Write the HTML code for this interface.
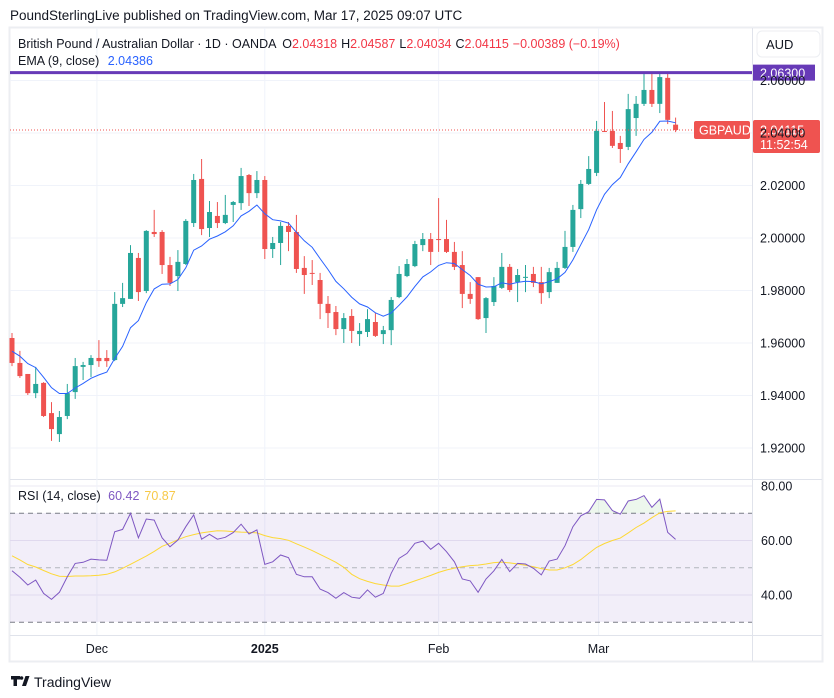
<!DOCTYPE html>
<html><head><meta charset="utf-8">
<style>
html,body{margin:0;padding:0;background:#fff;}
svg{display:block;font-family:"Liberation Sans",Arial,sans-serif;}
</style></head>
<body>
<svg id="chart" width="834" height="698" viewBox="0 0 834 698" xmlns="http://www.w3.org/2000/svg">
  <rect x="0" y="0" width="834" height="698" fill="#ffffff"/>
  <text x="10" y="20" font-size="13.5" fill="#131722">PoundSterlingLive published on TradingView.com, Mar 17, 2025 09:07 UTC</text>
  <rect x="9.5" y="27.5" width="813" height="634" fill="none" stroke="#eceef2" stroke-width="2"/>
  <line x1="752.5" y1="28" x2="752.5" y2="661" stroke="#e0e3eb" stroke-width="1"/>
  <line x1="10" y1="479.5" x2="822" y2="479.5" stroke="#e0e3eb" stroke-width="1"/>
  <line x1="10" y1="635.5" x2="822" y2="635.5" stroke="#e0e3eb" stroke-width="1"/>
  <g id="grid"></g>
  <rect x="10" y="513" width="742" height="109" fill="#7e57c2" fill-opacity="0.1"/>
  <g id="rsiguides"></g>
  <g id="rsiFill"></g>
  <g id="candles"></g>
  <g id="lines"></g>
  <g id="axes"></g>
  <text x="18" y="48" font-size="12.5" fill="#131722">British Pound / Australian Dollar · 1D · OANDA <tspan dx="3">O</tspan><tspan fill="#f23645">2.04318</tspan><tspan dx="4">H</tspan><tspan fill="#f23645">2.04587</tspan><tspan dx="4">L</tspan><tspan fill="#f23645">2.04034</tspan><tspan dx="4">C</tspan><tspan fill="#f23645">2.04115</tspan><tspan dx="4" fill="#f23645">−0.00389 (−0.19%)</tspan></text>
  <text x="18" y="65" font-size="12.5" fill="#131722">EMA (9, close) <tspan dx="5" fill="#2962ff">2.04386</tspan></text>
  <text x="18" y="500" font-size="12.5" fill="#131722">RSI (14, close) <tspan dx="4" fill="#7e57c2">60.42</tspan><tspan dx="5" fill="#f7c948">70.87</tspan></text>
  <rect x="757" y="31" width="63" height="26" rx="5" fill="#fff" stroke="#eceef2"/>
  <text x="766" y="49" font-size="13" fill="#131722">AUD</text>
  <g>
    <path d="M11 676h9v3.5h-3v6.5h-3.5v-6.5h-2.5z M22 686l3.5-10h4l-3.5 10z" fill="#131722"/>
    <circle cx="21.5" cy="678" r="1.8" fill="#131722"/>
    <text x="34" y="687" font-size="14" fill="#131722">TradingView</text>
  </g>
</svg>
<script>
const opens  = [1.9619,1.9524,1.9482,1.9409,1.9448,1.9333,1.9253,1.9322,1.9413,1.9509,1.9516,1.9543,1.9543,1.9535,1.9749,1.9768,1.9924,1.9798,2.0023,2.0023,1.9897,1.9855,1.9901,2.0057,2.0225,2.0038,2.0084,2.0057,2.0126,2.0133,2.0240,2.0171,2.0221,1.9958,1.9981,2.0046,2.0023,1.9886,1.9867,1.9840,1.9749,1.9718,1.9653,1.9703,1.9634,1.9642,1.9680,1.9634,1.9649,1.9775,1.9855,1.9893,1.9973,1.9996,1.9996,1.9996,1.9947,1.9897,1.9787,1.9851,1.9695,1.9756,1.9810,1.9890,1.9832,1.9851,1.9863,1.9832,1.9794,1.9829,1.9886,1.9966,2.0110,2.0206,2.0248,2.0408,2.0408,2.0362,2.0347,2.0457,2.0511,2.0564,2.0511,2.0610,2.04318];
const highs  = [1.9638,1.9570,1.9482,1.9509,1.9451,1.9375,1.9341,1.9444,1.9543,1.9528,1.9554,1.9611,1.9573,1.9794,1.9829,1.9973,1.9943,2.0030,2.0107,2.0030,1.9928,1.9954,2.0072,2.0244,2.0301,2.0141,2.0137,2.0164,2.0141,2.0267,2.0244,2.0255,2.0236,2.0004,2.0061,2.0061,2.0088,1.9931,1.9916,1.9867,1.9779,1.9741,1.9714,1.9729,1.9676,1.9729,1.9714,1.9665,1.9775,1.9893,1.9920,1.9989,2.0019,2.0019,2.0152,2.0069,1.9985,1.9950,1.9832,1.9851,1.9775,1.9851,1.9943,1.9901,1.9882,1.9897,1.9890,1.9890,1.9886,1.9909,2.0027,2.0126,2.0221,2.0312,2.0446,2.0518,2.0484,2.0389,2.0549,2.0541,2.0632,2.0632,2.0629,2.0629,2.04587];
const lows   = [1.9512,1.9467,1.9402,1.9390,1.9318,1.9227,1.9223,1.9310,1.9387,1.9459,1.9470,1.9509,1.9509,1.9531,1.9737,1.9768,1.9760,1.9790,2.0004,1.9863,1.9817,1.9798,1.9897,2.0042,2.0011,2.0004,2.0038,2.0053,2.0061,2.0107,2.0122,2.0152,1.9920,1.9924,1.9897,1.9950,1.9867,1.9787,1.9821,1.9691,1.9657,1.9630,1.9600,1.9600,1.9589,1.9623,1.9623,1.9596,1.9592,1.9771,1.9851,1.9889,1.9950,1.9897,1.9947,1.9943,1.9878,1.9733,1.9749,1.9688,1.9638,1.9741,1.9806,1.9794,1.9756,1.9794,1.9813,1.9749,1.9771,1.9829,1.9882,1.9947,2.0076,2.0202,2.0236,2.0404,2.0343,2.0286,2.0335,2.0389,2.0503,2.0499,2.0476,2.0434,2.04034];
const closes = [1.9524,1.9474,1.9409,1.9444,1.9322,1.9272,1.9318,1.9409,1.9512,1.9516,1.9543,1.9531,1.9531,1.9749,1.9771,1.9943,1.9794,2.0027,2.0015,1.9897,1.9829,1.9909,2.0065,2.0221,2.0034,2.0099,2.0057,2.0088,2.0137,2.0236,2.0171,2.0221,1.9958,1.9981,2.0046,2.0023,1.9882,1.9859,1.9866,1.9749,1.9714,1.9653,1.9695,1.9646,1.9646,1.9691,1.9627,1.9649,1.9764,1.9863,1.9901,1.9977,1.9996,1.9947,1.9995,1.9947,1.9890,1.9787,1.9768,1.9691,1.9771,1.9817,1.9890,1.9802,1.9859,1.9852,1.9829,1.9790,1.9870,1.9886,1.9966,2.0107,2.0206,2.0263,2.0408,2.0404,2.0351,2.0339,2.0491,2.0511,2.0564,2.0511,2.0613,2.0450,2.04115];
const emaSeed = 1.958;
const rsiValues = [48.9,46.5,43.7,45.5,40.6,38.4,41.0,46.7,51.6,52.0,53.2,52.9,52.8,63.2,64.1,70.0,61.0,67.9,67.5,61.0,57.7,60.2,65.1,69.4,60.5,62.3,60.5,61.2,62.9,66.0,62.4,63.9,51.3,52.2,54.7,53.7,47.6,46.7,46.7,42.2,40.9,38.8,40.9,39.2,38.8,41.9,39.2,40.6,48.0,53.5,55.3,59.0,59.8,56.8,59.0,55.9,52.2,45.9,45.2,41.0,45.9,48.9,53.1,48.6,51.6,51.4,49.8,47.4,52.5,53.2,58.1,65.1,69.1,70.6,75.1,74.9,71.0,69.7,74.5,75.1,76.5,72.2,75.2,63.0,60.42];
const rsiMaValues = [54.4,52.9,51.2,50.3,49.0,47.8,46.9,46.8,47.0,47.0,47.1,47.3,47.6,48.5,49.8,51.3,52.8,54.3,56.0,57.9,59.0,60.3,61.4,62.2,62.8,63.2,63.6,63.5,63.3,63.1,63.0,62.8,61.8,61.1,60.7,60.1,58.8,57.6,56.3,54.9,53.5,52.0,50.2,47.6,46.0,45.0,44.2,43.7,43.3,43.3,44.2,45.2,46.2,47.2,48.3,49.2,49.9,50.4,50.8,51.0,51.4,51.9,52.1,51.8,51.4,50.9,50.4,49.7,49.2,49.2,50.0,51.2,53.0,55.3,57.5,58.9,60.0,60.9,62.8,64.8,66.4,68.4,70.2,70.7,70.87];
const priceTicks = [2.06,2.04,2.02,2.00,1.98,1.96,1.94,1.92];
const rsiTicks = [80,60,40];
const monthLabels = ["Dec","2025","Feb","Mar"];
const monthIndex = [10.75,32,54,74.25];
const hiLine = 2.063;
const lastPrice = 2.04115;

const NS = "http://www.w3.org/2000/svg";
const xOf = i => 12 + i * 7.9;
const yP = p => 238 - (p - 2.0) * 2625;
const yR = v => 567.8 - (v - 50) * 2.725;
function mk(tag, attrs, parent){
  const e = document.createElementNS(NS, tag);
  for (const k in attrs) e.setAttribute(k, attrs[k]);
  parent.appendChild(e); return e;
}
const grid = document.getElementById('grid');
const axes = document.getElementById('axes');
priceTicks.forEach((t, k) => {
  const y = yP(t);
  const g = mk('line', {x1:10, x2:752, y1:y, y2:y, stroke:'#f0f3fa', 'stroke-width':1}, grid);
  
  
  const tx = mk('text', {x:760, y:y+4.5, 'font-size':12.5, fill:'#131722'}, axes);
  tx.textContent = t.toFixed(5);
  
  
});
rsiTicks.forEach(t => {
  const y = yR(t);
  const g = mk('line', {x1:10, x2:752, y1:y, y2:y, stroke:'#ebe8f3', 'stroke-width':1}, grid);
  
  
  const tx = mk('text', {x:761, y:y+4.5, 'font-size':12.5, fill:'#131722'}, axes);
  tx.textContent = t.toFixed(2);
  
  
});
monthLabels.forEach((m, k) => {
  const x = xOf(monthIndex[k]);
  const g = mk('line', {x1:x, x2:x, y1:28, y2:635, stroke:'#f0f3fa', 'stroke-width':1}, grid);
  
  
  const tx = mk('text', {x:x, y:653, 'font-size':12.5, fill:'#131722', 'text-anchor':'middle', 'font-weight': m === '2025' ? 'bold' : 'normal'}, axes);
  tx.textContent = m;
  
  
});
const rg = document.getElementById('rsiguides');
[70,50,30].forEach(v => {
  const l = mk('line', {x1:10, x2:752, y1:yR(v), y2:yR(v), stroke: v===50 ? '#b2b5be' : '#787b86', 'stroke-width':1, 'stroke-dasharray':'5,4'}, rg);
  
  
});
const cg = document.getElementById('candles');
for (let i = 0; i < closes.length; i++) {
  const up = closes[i] >= opens[i];
  const col = up ? '#26a69a' : '#ef5350';
  const x = xOf(i);
  const w = mk('line', {x1:x, x2:x, y1:yP(highs[i]), y2:yP(lows[i]), stroke:col, 'stroke-width':1}, cg);
  
  
  const top = Math.min(yP(opens[i]), yP(closes[i]));
  const h = Math.max(1, Math.abs(yP(opens[i]) - yP(closes[i])));
  const b = mk('rect', {x:x-2.5, y:top, width:5, height:h, fill:col}, cg);
  
  
}
const lg = document.getElementById('lines');
let ema = emaSeed, pts = [];
for (let i = 0; i < closes.length; i++) {
  ema = closes[i] * 0.2 + ema * 0.8;
  pts.push(xOf(i).toFixed(1) + ',' + yP(ema).toFixed(1));
}
const emaL = mk('polyline', {points:pts.join(' '), fill:'none', stroke:'#2962ff', 'stroke-width':1}, lg);


const rf = document.getElementById('rsiFill');
const cp = mk('clipPath', {id:'obClip'}, rf);
mk('rect', {x:10, y:480, width:742, height:yR(70)-480}, cp);
const rp = rsiValues.map((v,i)=> xOf(i).toFixed(1)+','+yR(v).toFixed(1));
const fillPoly = mk('polygon', {points: xOf(0)+','+yR(70)+' '+rp.join(' ')+' '+xOf(rsiValues.length-1)+','+yR(70), fill:'#4caf50', 'fill-opacity':0.1, 'clip-path':'url(#obClip)'}, rf);


const maL = mk('polyline', {points: rsiMaValues.map((v,i)=> xOf(i).toFixed(1)+','+yR(v).toFixed(1)).join(' '), fill:'none', stroke:'#fdd835', 'stroke-width':1}, lg);


const rsiL = mk('polyline', {points: rp.join(' '), fill:'none', stroke:'#7e57c2', 'stroke-width':1}, lg);


const hy = yP(hiLine);
const hl = mk('line', {x1:10, x2:752, y1:hy, y2:hy, stroke:'#673ab7', 'stroke-width':3}, lg);


const hr = mk('rect', {x:753, y:hy-8, width:62, height:16, fill:'#673ab7'}, lg);


const ht = mk('text', {x:760, y:hy+5, 'font-size':12.5, fill:'#fff'}, lg);
ht.textContent = hiLine.toFixed(5);
const ly = yP(lastPrice);
const dl = mk('line', {x1:10, x2:692, y1:ly, y2:ly, stroke:'#ef5350', 'stroke-width':1, 'stroke-dasharray':'1,2'}, lg);


const sb = mk('rect', {x:694, y:ly-9, width:56, height:18, rx:2, fill:'#ef5350'}, lg);


const st = mk('text', {x:699, y:ly+4.5, 'font-size':12.5, fill:'#fff'}, lg);
st.textContent = 'GBPAUD';
const pb = mk('rect', {x:753, y:ly-10, width:67, height:33, rx:2, fill:'#ef5350'}, lg);


const pt = mk('text', {x:760, y:ly+4.5, 'font-size':12.5, fill:'#fff'}, lg);
pt.textContent = lastPrice.toFixed(5);
const ct = mk('text', {x:760, y:ly+19, 'font-size':12.5, fill:'#fff'}, lg);
ct.textContent = '11:52:54';


</script>
</body></html>
